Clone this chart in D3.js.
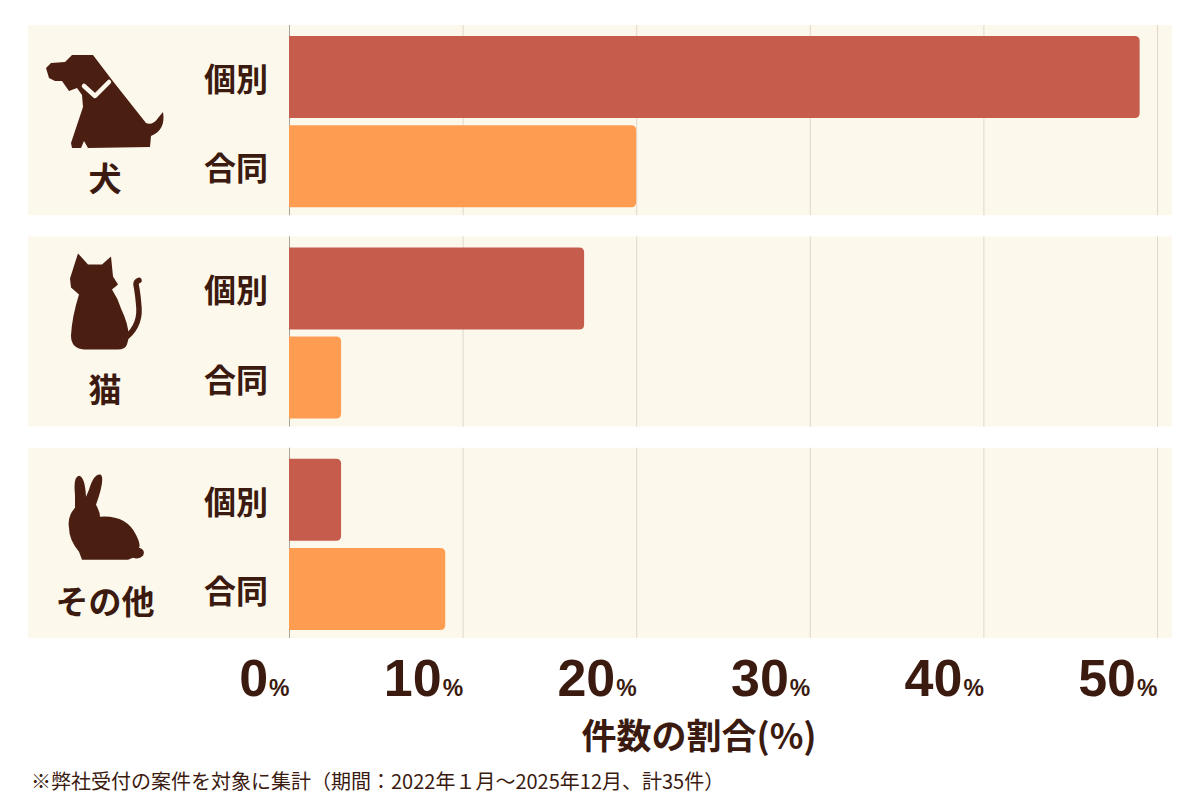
<!DOCTYPE html>
<html><head><meta charset="utf-8">
<script src="https://cdn.jsdelivr.net/npm/d3@7"></script>
<style>
html,body{margin:0;padding:0;background:#fff;}
svg{display:block;font-family:"Noto Sans CJK JP","Noto Sans",sans-serif;}
</style></head>
<body>
<svg id="chart" width="1200" height="800"></svg>
<script>
// ---- data ----
const animals = ["犬", "猫", "その他"];
const types = ["個別", "合同"];
const kobetsu = [49, 17, 3];   // 個別 (%)
const goudou  = [20, 3, 9];    // 合同 (%)
const xTicks = [0, 10, 20, 30, 40, 50];
const xTitle = "件数の割合(%)";
const footnote = "※弊社受付の案件を対象に集計（期間：2022年１月～2025年12月、計35件）";

const rows = [];
animals.forEach((a, i) => {
  rows.push({animal: a, type: types[0], value: kobetsu[i]});
  rows.push({animal: a, type: types[1], value: goudou[i]});
});

// ---- style ----
const C = {
  text: "#3b1a10",
  band: "#fdf8ec",
  grid: "#e0d8ca",
  axis: "#a9a39a",
  icon: "#4a1f12",
  bar: {"個別": "#c65c4c", "合同": "#fe9d52"}
};

const svg = d3.select("#chart");
const x = d3.scaleLinear().domain([0, 50]).range([289, 1157]);
const y = d3.scaleBand().domain(animals).range([25, 638]).paddingInner(0.1);
const bandW = y.bandwidth();
const ySub = d3.scaleBand().domain(types).range([11, bandW - 8]).paddingInner(0.08);

// band backgrounds
svg.append("g").selectAll("rect").data(animals).join("rect")
  .attr("x", 28).attr("width", 1144)
  .attr("y", d => y(d)).attr("height", bandW)
  .attr("fill", C.band);

// gridlines inside bands
const grid = svg.append("g");
animals.forEach(a => {
  grid.selectAll(null).data(xTicks).join("line")
    .attr("x1", d => x(d) + 0.5).attr("x2", d => x(d) + 0.5)
    .attr("y1", y(a)).attr("y2", y(a) + bandW)
    .attr("stroke", d => d === 0 ? C.axis : C.grid)
    .attr("stroke-width", 1);
});

// bars (square left, rounded right)
const r = 5;
function barPath(d) {
  const x0 = x(0), x1 = x(d.value);
  const y0 = y(d.animal) + ySub(d.type), h = ySub.bandwidth();
  const rr = Math.min(r, (x1 - x0) / 2);
  return `M${x0},${y0} H${x1 - rr} Q${x1},${y0} ${x1},${y0 + rr} V${y0 + h - rr} Q${x1},${y0 + h} ${x1 - rr},${y0 + h} H${x0} Z`;
}
svg.append("g").selectAll("path").data(rows).join("path")
  .attr("d", barPath)
  .attr("fill", d => C.bar[d.type]);

// sub labels
svg.append("g").selectAll("text").data(rows).join("text")
  .attr("x", 268)
  .attr("y", d => y(d.animal) + ySub(d.type) + ySub.bandwidth() / 2)
  .attr("text-anchor", "end").attr("dominant-baseline", "central")
  .attr("font-size", 32).attr("font-weight", 700).attr("fill", C.text)
  .text(d => d.type);

// category labels
svg.append("g").selectAll("text").data(animals).join("text")
  .attr("x", 105).attr("y", d => y(d) + 152)
  .attr("text-anchor", "middle").attr("dominant-baseline", "central")
  .attr("font-size", 33).attr("font-weight", 700).attr("fill", C.text)
  .text(d => d);

// icons (decorative silhouettes), local coords relative to band top
const icons = {
  "犬": {
    body: "M46,43 L51,38 L65,37 L72,30 L93,30 L112,55 L146,98 C150,100 155,98 158,93 L163,87 C165,99 161,107 151,111 L150,122 L88,123 L84,116 L81,123 L72,123 L71,118 L83,82 L82,70 L77,63 L69,66 L62,56 L55,56 L49,53 Z",
    extra: [{d: "M84,61 L95,71 L109,57", stroke: C.band, w: 4.5}]
  },
  "猫": {
    body: "M78,17 L88,28 L102,28 L111,20 L113,40 L118,48 L112,53 Q118,62 121,72 Q132,95 127,108 Q125,113 118,113 L84,113 Q71,112 71,99 Q72,80 79,58 L71,51 L70,42 Z",
    extra: [{d: "M122,104 Q140,92 139,72 Q138,58 136,48 Q136,45 139,44", stroke: C.icon, w: 5.5}]
  },
  "その他": {
    body: "M82,112 L79,104 Q69,92 69,80 Q67,69 75,60 L75,47 Q73,29 79,28 Q85,29 86,49 L89,42 Q94,25 101,27 Q105,32 96,57 Q100,64 100,69 Q126,67 136,87 Q141,97 139,100 Q146,102 143,108 Q139,112 133,110 L128,112 Z",
    extra: []
  }
};
const iconG = svg.append("g").selectAll("g").data(animals).join("g")
  .attr("transform", d => `translate(0,${y(d)})`);
iconG.append("path").attr("d", d => icons[d].body).attr("fill", C.icon);
iconG.each(function(d) {
  d3.select(this).selectAll("path.extra").data(icons[d].extra).join("path")
    .attr("class", "extra").attr("d", e => e.d).attr("fill", "none")
    .attr("stroke", e => e.stroke).attr("stroke-width", e => e.w)
    .attr("stroke-linecap", "round").attr("stroke-linejoin", "round");
});

// x axis
const axis = d3.axisBottom(x).tickValues(xTicks).tickSize(0).tickFormat("");
const ax = svg.append("g").attr("transform", "translate(0,640)").call(axis);
ax.select(".domain").remove();
ax.selectAll(".tick text").remove();
const tl = ax.selectAll(".tick").append("text")
  .attr("x", 0).attr("y", 56)
  .attr("text-anchor", "end").attr("fill", C.text).attr("font-weight", 700);
tl.append("tspan").attr("font-size", 52).text(d => d);
tl.append("tspan").attr("font-size", 23).attr("dx", 1).text("%");

// axis title
svg.append("text").attr("x", 699).attr("y", 749)
  .attr("text-anchor", "middle").attr("font-size", 35).attr("font-weight", 700)
  .attr("fill", C.text).text(xTitle);

// footnote
svg.append("text").attr("x", 31).attr("y", 789)
  .attr("font-size", 20).attr("fill", C.text).text(footnote);
</script>
</body></html>
